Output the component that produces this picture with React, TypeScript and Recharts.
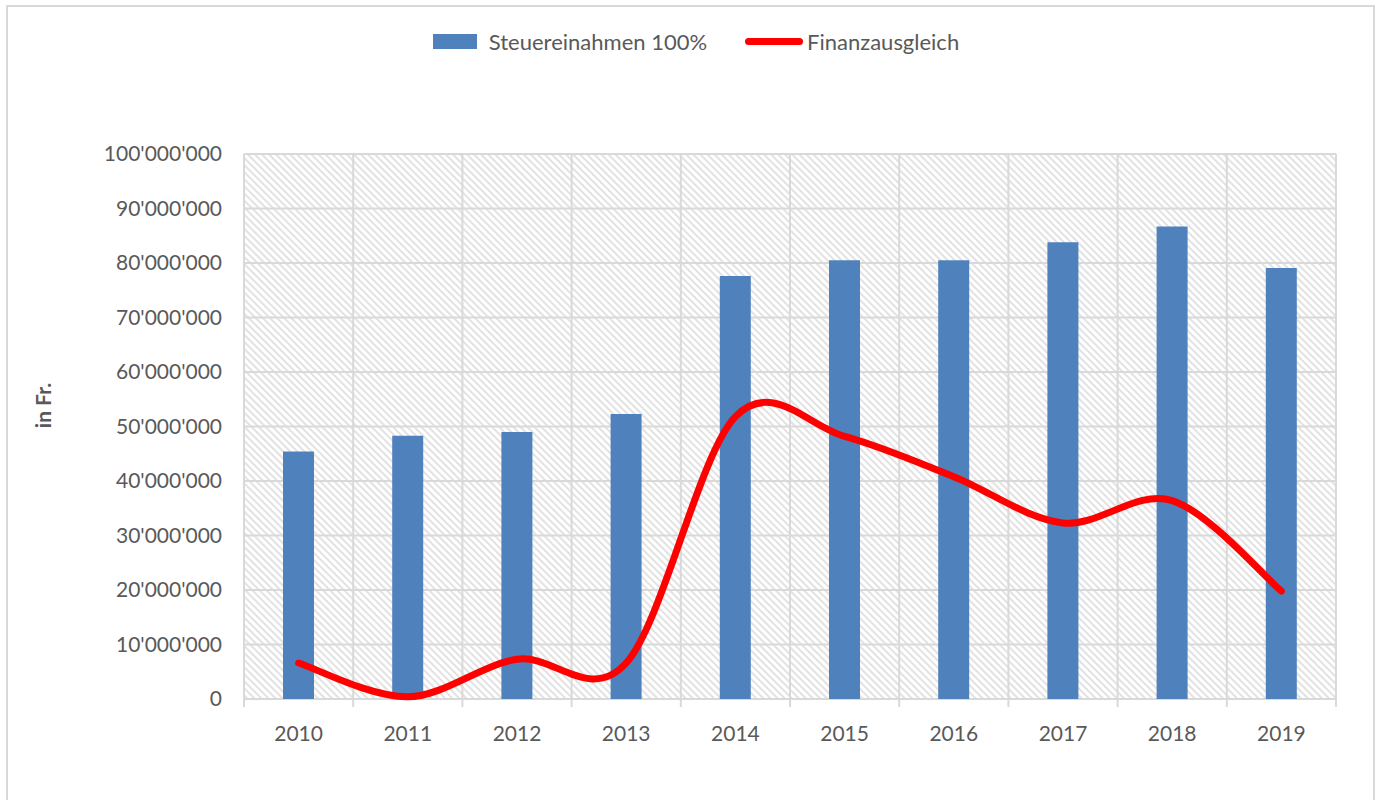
import { ComposedChart, Bar, Line, XAxis, YAxis, CartesianGrid, Legend } from "recharts";

const years = ["2010", "2011", "2012", "2013", "2014", "2015", "2016", "2017", "2018", "2019"];
const steuereinnahmen = [45400000, 48300000, 49000000, 52300000, 77600000, 80500000, 80500000, 83800000, 86700000, 79100000];
const finanzausgleich = [6600000, 400000, 7300000, 6600000, 51800000, 48200000, 40800000, 32300000, 36400000, 19800000];
const yTicks = [0, 10000000, 20000000, 30000000, 40000000, 50000000, 60000000, 70000000, 80000000, 90000000, 100000000];

const data = years.map((year, i) => ({
  year,
  steuer: steuereinnahmen[i],
  finanz: finanzausgleich[i],
}));

const FONT = "Lato, 'Open Sans', sans-serif";
const TEXT = "#595959";
const GRID = "#d9d9d9";

const fmt = (v: number) => String(v).replace(/\B(?=(\d{3})+(?!\d))/g, "'");

// smoothed line like the spreadsheet one (catmull-rom style bezier)
const excelSmooth = (context: any) => {
  let pts: [number, number][] = [];
  return {
    areaStart() {},
    areaEnd() {},
    lineStart() {
      pts = [];
    },
    point(x: number, y: number) {
      pts.push([+x, +y]);
    },
    lineEnd() {
      const n = pts.length;
      if (!n) return;
      context.moveTo(pts[0][0], pts[0][1]);
      for (let i = 0; i < n - 1; i++) {
        const p0 = pts[i - 1] || pts[i];
        const p1 = pts[i];
        const p2 = pts[i + 1];
        const p3 = pts[i + 2] || p2;
        context.bezierCurveTo(
          p1[0] + (p2[0] - p0[0]) / 6,
          p1[1] + (p2[1] - p0[1]) / 6,
          p2[0] - (p3[0] - p1[0]) / 6,
          p2[1] - (p3[1] - p1[1]) / 6,
          p2[0],
          p2[1]
        );
      }
    },
  };
};

const XTick = (props: any) => {
  const { x, y, payload, index } = props;
  const half = payload && payload.offset ? payload.offset : 54.6;
  return (
    <g>
      <line x1={x - half} x2={x - half} y1={y} y2={y + 8} stroke={GRID} strokeWidth={2} />
      {index === years.length - 1 && (
        <line x1={x + half} x2={x + half} y1={y} y2={y + 8} stroke={GRID} strokeWidth={2} />
      )}
      <text x={x} y={y + 42} textAnchor="middle" fill={TEXT} fontSize={21} fontFamily={FONT}>
        {payload.value}
      </text>
    </g>
  );
};

const LegendContent = () => (
  <div
    style={{
      display: "flex",
      justifyContent: "center",
      alignItems: "center",
      fontFamily: FONT,
      fontSize: 22,
      color: TEXT,
      paddingLeft: 10,
    }}
  >
    <span style={{ display: "inline-block", width: 44, height: 15, background: "#4f81bd", marginRight: 12 }} />
    <span>Steuereinahmen 100%</span>
    <span
      style={{
        display: "inline-block",
        width: 58,
        height: 7,
        borderRadius: 4,
        background: "#ff0000",
        marginLeft: 38,
        marginRight: 4,
      }}
    />
    <span>Finanzausgleich</span>
  </div>
);

const YLabel = (props: any) => {
  const vb = props.viewBox || { y: 154, height: 545 };
  const cy = vb.y + vb.height / 2 - 21;
  return (
    <text
      x={42}
      y={cy}
      transform={`rotate(-90, 42, ${cy})`}
      textAnchor="middle"
      dominantBaseline="central"
      fill={TEXT}
      fontSize={21}
      fontWeight="bold"
      fontFamily={FONT}
    >
      in Fr.
    </text>
  );
};

export default function App() {
  return (
    <div style={{ position: "absolute", left: 0, top: 0, width: 1382, height: 800, background: "#fff" }}>
      <div
        style={{
          position: "absolute",
          left: 6,
          top: 5,
          width: 1369,
          height: 810,
          border: `2px solid ${GRID}`,
          boxSizing: "border-box",
        }}
      />
      <div style={{ position: "absolute", left: 0, top: 0 }}>
        <ComposedChart
          width={1382}
          height={800}
          data={data}
          margin={{ top: 154, right: 46, bottom: 41, left: 0 }}
          barCategoryGap="0%"
        >
          <defs>
            <pattern id="hatch" patternUnits="userSpaceOnUse" width={5} height={5} patternTransform="rotate(-45)">
              <rect width={5} height={5} fill="#ffffff" />
              <rect width={2} height={5} fill="#e2e2e2" />
            </pattern>
          </defs>
          <CartesianGrid
            fill="url(#hatch)"
            fillOpacity={1}
            stroke={GRID}
            strokeWidth={2}
            verticalCoordinatesGenerator={({ offset }: any) =>
              Array.from({ length: years.length + 1 }, (_, i) => offset.left + (i * offset.width) / years.length)
            }
          />
          <XAxis
            dataKey="year"
            height={60}
            axisLine={false}
            tickLine={false}
            tickSize={0}
            tickMargin={0}
            interval={0}
            tick={<XTick />}
          />
          <YAxis
            width={244}
            domain={[0, 100000000]}
            ticks={yTicks}
            interval={0}
            axisLine={false}
            tickLine={false}
            tickSize={0}
            tickMargin={22}
            tickFormatter={fmt}
            tick={{ fill: TEXT, fontSize: 21, fontFamily: FONT }}
            label={<YLabel />}
          />
          <Legend
            verticalAlign="middle"
            align="center"
            layout="horizontal"
            wrapperStyle={{ top: 28, left: 0, width: 1382 }}
            content={<LegendContent />}
          />
          <Bar dataKey="steuer" name="Steuereinahmen 100%" fill="#4f81bd" barSize={31} isAnimationActive={false} />
          <Line
            dataKey="finanz"
            name="Finanzausgleich"
            type={excelSmooth as any}
            stroke="#ff0000"
            strokeWidth={7}
            strokeLinecap="round"
            dot={false}
            activeDot={false}
            isAnimationActive={false}
          />
        </ComposedChart>
      </div>
    </div>
  );
}
